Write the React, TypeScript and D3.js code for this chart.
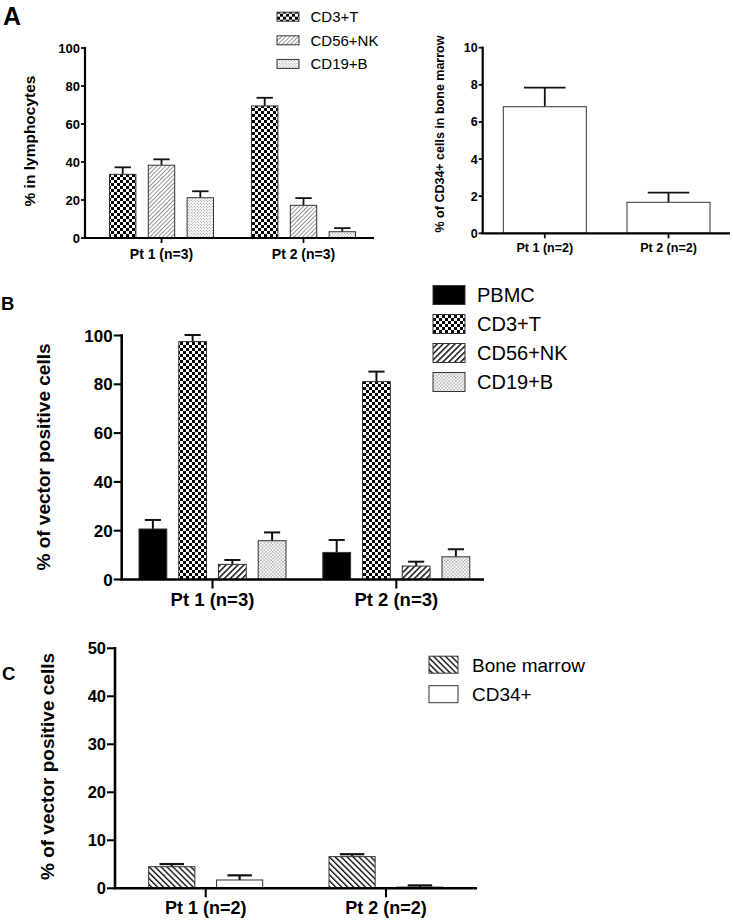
import React from "react";
import * as d3 from "d3";

// ---------- DATA ----------
const lymphGroups = ["Pt 1 (n=3)", "Pt 2 (n=3)"];
const lymphSeries = ["CD3+T", "CD56+NK", "CD19+B"];
const lymphMean = [
  [33.5, 38.3, 21.2],
  [69.5, 17.2, 3.3],
];
const lymphErr = [
  [3.7, 3.1, 3.4],
  [4.3, 3.8, 1.9],
];
const lymphTicks = [0, 20, 40, 60, 80, 100];

const cd34Groups = ["Pt 1 (n=2)", "Pt 2 (n=2)"];
const cd34Series = ["CD34+"];
const cd34Mean = [[6.82], [1.67]];
const cd34Err = [[1.03], [0.52]];
const cd34Ticks = [0, 2, 4, 6, 8, 10];

const vectorGroups = ["Pt 1 (n=3)", "Pt 2 (n=3)"];
const vectorSeries = ["PBMC", "CD3+T", "CD56+NK", "CD19+B"];
const vectorMean = [
  [20.7, 97.5, 6.2, 15.9],
  [11.1, 81.1, 5.5, 9.3],
];
const vectorErr = [
  [3.7, 2.7, 1.8, 3.4],
  [5.1, 4.1, 1.8, 3.1],
];
const vectorTicks = [0, 20, 40, 60, 80, 100];

const bmGroups = ["Pt 1 (n=2)", "Pt 2 (n=2)"];
const bmSeries = ["Bone marrow", "CD34+"];
const bmMean = [
  [4.5, 1.73],
  [6.6, 0.25],
];
const bmErr = [
  [0.55, 0.97],
  [0.5, 0.35],
];
const bmTicks = [0, 10, 20, 30, 40, 50];

const FONT = "'Liberation Sans', Arial, Helvetica, sans-serif";

type Layout = {
  axisX: number;
  axisEnd: number;
  yTop: number;
  yBottom: number;
  c1: number;
  c2: number;
  groupWidth: number;
  padInner: number;
  tickLen: number;
  tickFont: number;
  axisW: number;
  labelFont: number;
  labelY: number;
  title: string;
  titleX: number;
  titleY: number;
  titleFont: number;
  errW: number;
  capFrac: number;
};

function BarPanel(props: {
  groups: string[];
  series: string[];
  mean: number[][];
  err: number[][];
  ticks: number[];
  fills: string[];
  L: Layout;
}) {
  const { groups, series, mean, err, ticks, fills, L } = props;
  const y = d3
    .scaleLinear()
    .domain([0, d3.max(ticks) as number])
    .range([L.yBottom, L.yTop]);
  const x = d3.scalePoint<string>().domain(groups).range([L.c1, L.c2]);
  const inner = d3
    .scaleBand<string>()
    .domain(series)
    .range([-L.groupWidth / 2, L.groupWidth / 2])
    .paddingInner(L.padInner);
  const bw = inner.bandwidth();
  const cap = bw * L.capFrac;
  return (
    <g>
      {groups.map((g, gi) =>
        series.map((s, si) => {
          const bx = (x(g) as number) + (inner(s) as number);
          const m = mean[gi][si];
          const e = err[gi][si];
          const cx = bx + bw / 2;
          return (
            <g key={g + s}>
              <line
                x1={cx}
                x2={cx}
                y1={y(m)}
                y2={y(m + e)}
                stroke="#111"
                strokeWidth={L.errW}
              />
              <line
                x1={cx - cap / 2}
                x2={cx + cap / 2}
                y1={y(m + e)}
                y2={y(m + e)}
                stroke="#111"
                strokeWidth={L.errW}
              />
              <rect
                x={bx}
                y={y(m)}
                width={bw}
                height={y(0) - y(m)}
                fill={fills[si]}
                stroke="#333"
                strokeWidth={1}
              />
            </g>
          );
        })
      )}
      {/* y axis */}
      <line
        x1={L.axisX}
        x2={L.axisX}
        y1={y(d3.max(ticks) as number) - L.axisW / 2}
        y2={y(0)}
        stroke="#000"
        strokeWidth={L.axisW}
      />
      {ticks.map((t) => (
        <g key={t}>
          <line
            x1={L.axisX - L.tickLen}
            x2={L.axisX}
            y1={y(t)}
            y2={y(t)}
            stroke="#000"
            strokeWidth={L.axisW * 0.8}
          />
          <text
            x={L.axisX - L.tickLen - 1}
            y={y(t)}
            dy="0.36em"
            textAnchor="end"
            fontSize={L.tickFont}
            fontWeight="bold"
            fontFamily={FONT}
          >
            {t}
          </text>
        </g>
      ))}
      {/* x axis */}
      <line
        x1={L.axisX - L.axisW / 2}
        x2={L.axisEnd}
        y1={y(0)}
        y2={y(0)}
        stroke="#000"
        strokeWidth={L.axisW}
      />
      {groups.map((g) => (
        <g key={g}>
          <line
            x1={x(g)}
            x2={x(g)}
            y1={y(0)}
            y2={y(0) + L.tickLen + 1}
            stroke="#000"
            strokeWidth={L.axisW * 0.8}
          />
          <text
            x={x(g)}
            y={L.labelY}
            textAnchor="middle"
            fontSize={L.labelFont}
            fontWeight="bold"
            fontFamily={FONT}
          >
            {g}
          </text>
        </g>
      ))}
      <text
        transform={`translate(${L.titleX},${L.titleY}) rotate(-90)`}
        textAnchor="middle"
        fontSize={L.titleFont}
        fontWeight="bold"
        fontFamily={FONT}
      >
        {L.title}
      </text>
    </g>
  );
}

function Legend(props: {
  items: string[];
  fills: string[];
  x: number;
  y: number;
  step: number;
  sw: number;
  sh: number;
  font: number;
  gap: number;
}) {
  const { items, fills, x, y, step, sw, sh, font, gap } = props;
  return (
    <g>
      {items.map((it, i) => (
        <g key={it} transform={`translate(${x},${y + i * step})`}>
          <rect
            x={0}
            y={-sh / 2}
            width={sw}
            height={sh}
            fill={fills[i]}
            stroke="#333"
            strokeWidth={1}
          />
          <text
            x={sw + gap}
            y={0}
            dy="0.36em"
            fontSize={font}
            fontFamily={FONT}
          >
            {it}
          </text>
        </g>
      ))}
    </g>
  );
}

export default function App() {
  const fillsA = ["url(#checker)", "url(#hatchLight)", "url(#dotsLight)"];
  const fillsA2 = ["#fff"];
  const fillsB = ["#000", "url(#checker)", "url(#hatchDark)", "url(#dots)"];
  const fillsC = ["url(#hatchBack)", "#fff"];
  return (
    <svg
      width={733}
      height={920}
      style={{ position: "absolute", left: 0, top: 0, background: "#fff" }}
    >
      <defs>
        <pattern id="checker" width={6} height={6} patternUnits="userSpaceOnUse">
          <rect width={6} height={6} fill="#fff" />
          <rect x={0} y={0} width={3} height={3} fill="#000" />
          <rect x={3} y={3} width={3} height={3} fill="#000" />
        </pattern>
        <pattern
          id="hatchLight"
          width={3}
          height={3}
          patternUnits="userSpaceOnUse"
          patternTransform="rotate(45)"
        >
          <rect width={3} height={3} fill="#fff" />
          <line x1={0.5} y1={0} x2={0.5} y2={3} stroke="#888" strokeWidth={0.9} />
        </pattern>
        <pattern
          id="hatchDark"
          width={4.2}
          height={4.2}
          patternUnits="userSpaceOnUse"
          patternTransform="rotate(45)"
        >
          <rect width={4.2} height={4.2} fill="#fff" />
          <line x1={0.7} y1={0} x2={0.7} y2={4.2} stroke="#000" strokeWidth={1.4} />
        </pattern>
        <pattern
          id="hatchBack"
          width={4.2}
          height={4.2}
          patternUnits="userSpaceOnUse"
          patternTransform="rotate(-45)"
        >
          <rect width={4.2} height={4.2} fill="#fff" />
          <line x1={0.7} y1={0} x2={0.7} y2={4.2} stroke="#000" strokeWidth={1.3} />
        </pattern>
        <pattern id="dotsLight" width={3} height={3} patternUnits="userSpaceOnUse">
          <rect width={3} height={3} fill="#fff" />
          <circle cx={0.75} cy={0.75} r={0.55} fill="#777" />
          <circle cx={2.25} cy={2.25} r={0.55} fill="#777" />
        </pattern>
        <pattern id="dots" width={3.4} height={3.4} patternUnits="userSpaceOnUse">
          <rect width={3.4} height={3.4} fill="#fff" />
          <circle cx={0.85} cy={0.85} r={0.65} fill="#555" />
          <circle cx={2.55} cy={2.55} r={0.65} fill="#555" />
        </pattern>
      </defs>

      {/* Panel letters */}
      <text x={3} y={25} fontSize={25} fontWeight="bold" fontFamily={FONT}>A</text>
      <text x={1} y={310} fontSize={18.5} fontWeight="bold" fontFamily={FONT}>B</text>
      <text x={2} y={680} fontSize={18.5} fontWeight="bold" fontFamily={FONT}>C</text>

      {/* Panel A left */}
      <BarPanel
        groups={lymphGroups}
        series={lymphSeries}
        mean={lymphMean}
        err={lymphErr}
        ticks={lymphTicks}
        fills={fillsA}
        L={{
          axisX: 85,
          axisEnd: 374,
          yTop: 48,
          yBottom: 238,
          c1: 161.5,
          c2: 303.5,
          groupWidth: 104,
          padInner: 0.32,
          tickLen: 4,
          tickFont: 13,
          axisW: 2.2,
          labelFont: 14,
          labelY: 259,
          title: "% in lymphocytes",
          titleX: 35,
          titleY: 141,
          titleFont: 15.5,
          errW: 1.8,
          capFrac: 0.62,
        }}
      />
      <Legend
        items={lymphSeries}
        fills={fillsA}
        x={277}
        y={16.7}
        step={23.6}
        sw={22}
        sh={9}
        font={15}
        gap={11.5}
      />

      {/* Panel A right */}
      <BarPanel
        groups={cd34Groups}
        series={cd34Series}
        mean={cd34Mean}
        err={cd34Err}
        ticks={cd34Ticks}
        fills={fillsA2}
        L={{
          axisX: 482.7,
          axisEnd: 730,
          yTop: 47.7,
          yBottom: 233.3,
          c1: 544.8,
          c2: 668.5,
          groupWidth: 83,
          padInner: 0,
          tickLen: 4,
          tickFont: 12.5,
          axisW: 2.2,
          labelFont: 12.5,
          labelY: 252,
          title: "% of CD34+ cells in bone marrow",
          titleX: 444,
          titleY: 134,
          titleFont: 12.5,
          errW: 1.8,
          capFrac: 0.5,
        }}
      />

      {/* Panel B */}
      <BarPanel
        groups={vectorGroups}
        series={vectorSeries}
        mean={vectorMean}
        err={vectorErr}
        ticks={vectorTicks}
        fills={fillsB}
        L={{
          axisX: 121.7,
          axisEnd: 484,
          yTop: 335.5,
          yBottom: 579.5,
          c1: 212.5,
          c2: 396.3,
          groupWidth: 147,
          padInner: 0.3,
          tickLen: 8,
          tickFont: 17,
          axisW: 2.6,
          labelFont: 18.5,
          labelY: 606,
          title: "% of vector positive cells",
          titleX: 49.5,
          titleY: 457,
          titleFont: 19,
          errW: 2,
          capFrac: 0.58,
        }}
      />
      <Legend
        items={vectorSeries}
        fills={fillsB}
        x={433}
        y={295}
        step={29}
        sw={32}
        sh={19}
        font={20}
        gap={12}
      />

      {/* Panel C */}
      <BarPanel
        groups={bmGroups}
        series={bmSeries}
        mean={bmMean}
        err={bmErr}
        ticks={bmTicks}
        fills={fillsC}
        L={{
          axisX: 115,
          axisEnd: 477,
          yTop: 648.3,
          yBottom: 888.3,
          c1: 205.7,
          c2: 386,
          groupWidth: 114,
          padInner: 0.32,
          tickLen: 8,
          tickFont: 16.5,
          axisW: 2.6,
          labelFont: 18,
          labelY: 913.5,
          title: "% of vector positive cells",
          titleX: 54,
          titleY: 766.5,
          titleFont: 19,
          errW: 2.2,
          capFrac: 0.53,
        }}
      />
      <Legend
        items={bmSeries}
        fills={fillsC}
        x={429}
        y={664.7}
        step={29.5}
        sw={29}
        sh={17}
        font={19}
        gap={14}
      />
    </svg>
  );
}
